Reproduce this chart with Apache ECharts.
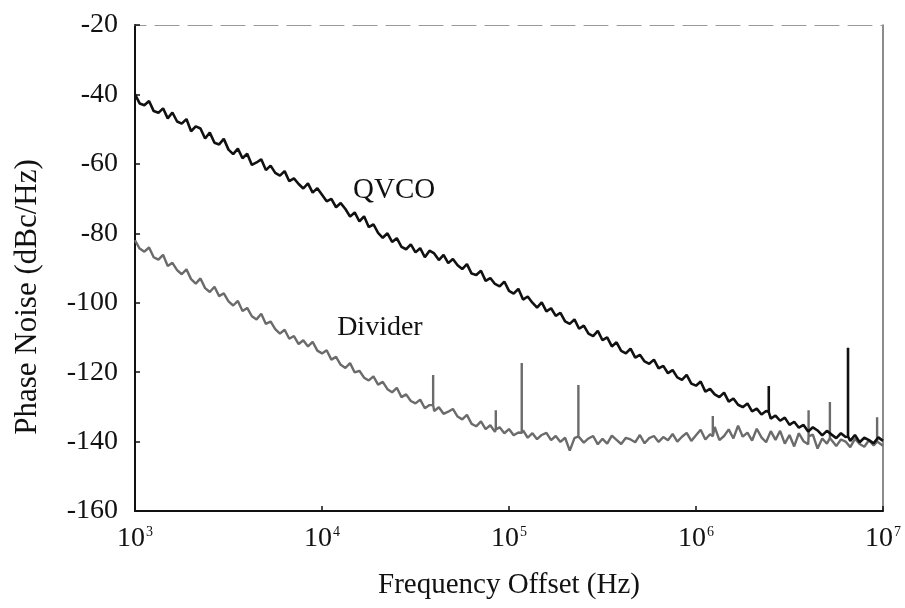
<!DOCTYPE html>
<html>
<head>
<meta charset="utf-8">
<script src="https://cdn.jsdelivr.net/npm/echarts@6/dist/echarts.min.js"></script>
<style>
  html, body { margin: 0; padding: 0; background: #fff; }
  #chart { width: 905px; height: 608px; }
</style>
</head>
<body>
<div id="chart"></div>
<script>
// Offset frequency sweep (Hz), 40 points per decade
const freqHz = [
  1.000e3,1.059e3,1.122e3,1.189e3,1.259e3,1.334e3,1.413e3,1.496e3,1.585e3,1.679e3,
  1.778e3,1.884e3,1.995e3,2.113e3,2.239e3,2.371e3,2.512e3,2.661e3,2.818e3,2.985e3,
  3.162e3,3.350e3,3.548e3,3.758e3,3.981e3,4.217e3,4.467e3,4.732e3,5.012e3,5.309e3,
  5.623e3,5.957e3,6.310e3,6.683e3,7.079e3,7.499e3,7.943e3,8.414e3,8.913e3,9.441e3,
  1.000e4,1.059e4,1.122e4,1.189e4,1.259e4,1.334e4,1.413e4,1.496e4,1.585e4,1.679e4,
  1.778e4,1.884e4,1.995e4,2.113e4,2.239e4,2.371e4,2.512e4,2.661e4,2.818e4,2.985e4,
  3.162e4,3.350e4,3.548e4,3.758e4,3.981e4,4.217e4,4.467e4,4.732e4,5.012e4,5.309e4,
  5.623e4,5.957e4,6.310e4,6.683e4,7.079e4,7.499e4,7.943e4,8.414e4,8.913e4,9.441e4,
  1.000e5,1.059e5,1.122e5,1.189e5,1.259e5,1.334e5,1.413e5,1.496e5,1.585e5,1.679e5,
  1.778e5,1.884e5,1.995e5,2.113e5,2.239e5,2.371e5,2.512e5,2.661e5,2.818e5,2.985e5,
  3.162e5,3.350e5,3.548e5,3.758e5,3.981e5,4.217e5,4.467e5,4.732e5,5.012e5,5.309e5,
  5.623e5,5.957e5,6.310e5,6.683e5,7.079e5,7.499e5,7.943e5,8.414e5,8.913e5,9.441e5,
  1.000e6,1.059e6,1.122e6,1.189e6,1.259e6,1.334e6,1.413e6,1.496e6,1.585e6,1.679e6,
  1.778e6,1.884e6,1.995e6,2.113e6,2.239e6,2.371e6,2.512e6,2.661e6,2.818e6,2.985e6,
  3.162e6,3.350e6,3.548e6,3.758e6,3.981e6,4.217e6,4.467e6,4.732e6,5.012e6,5.309e6,
  5.623e6,5.957e6,6.310e6,6.683e6,7.079e6,7.499e6,7.943e6,8.414e6,8.913e6,9.441e6,
  1.000e7
];

// QVCO phase noise (dBc/Hz)
const qvcoDbc = [
  -40.0,-42.6,-43.1,-41.9,-44.8,-45.3,-44.0,-46.9,-45.2,-47.8,
  -48.4,-47.1,-50.6,-49.2,-49.8,-52.7,-51.0,-53.9,-54.4,-52.8,
  -55.9,-57.2,-55.6,-58.4,-57.1,-60.3,-59.6,-58.7,-61.8,-60.5,
  -62.6,-63.4,-62.1,-65.0,-64.2,-65.8,-67.1,-65.6,-68.3,-67.0,
  -68.9,-70.8,-70.1,-72.5,-71.3,-73.0,-75.2,-74.0,-76.6,-75.1,
  -78.2,-77.4,-79.9,-81.3,-80.0,-82.5,-81.4,-83.9,-84.6,-83.2,
  -85.5,-84.3,-86.9,-85.0,-85.8,-87.7,-86.2,-88.6,-87.4,-89.2,
  -90.3,-88.9,-91.6,-92.0,-90.8,-93.7,-92.9,-94.6,-95.3,-93.9,
  -96.6,-97.4,-96.0,-99.1,-98.2,-100.0,-101.4,-99.9,-102.5,-101.6,
  -103.8,-102.9,-105.4,-106.1,-104.8,-107.5,-106.6,-108.9,-109.6,-108.1,
  -110.8,-110.0,-112.6,-111.4,-113.9,-114.6,-113.2,-115.8,-115.0,-116.9,
  -117.6,-116.4,-118.9,-118.2,-120.3,-119.4,-121.5,-122.2,-120.8,-123.3,
  -123.9,-122.7,-125.6,-124.8,-126.4,-127.2,-125.9,-128.5,-127.6,-129.4,
  -130.1,-129.0,-131.3,-130.5,-132.2,-131.2,-133.4,-132.5,-134.0,-133.1,
  -135.2,-134.3,-136.0,-135.2,-137.1,-135.9,-136.8,-138.2,-136.9,-138.0,
  -139.0,-137.6,-138.7,-139.8,-138.1,-140.2,-138.9,-139.6,-140.5,-138.8,
  -139.8
];

// Divider output phase noise (dBc/Hz)
const dividerDbc = [
  -82.0,-84.4,-85.3,-84.1,-86.9,-87.6,-86.2,-89.4,-88.5,-90.6,
  -91.8,-90.4,-93.2,-94.5,-93.0,-95.8,-96.9,-95.4,-98.1,-97.3,
  -99.6,-100.8,-99.5,-102.4,-101.5,-103.9,-104.8,-103.2,-106.1,-105.4,
  -107.6,-108.9,-107.8,-110.4,-109.6,-111.9,-110.8,-112.6,-111.3,-113.8,
  -114.6,-113.7,-116.4,-115.6,-117.9,-118.8,-117.4,-120.1,-119.6,-121.6,
  -122.4,-121.2,-123.6,-122.8,-124.9,-125.8,-124.5,-127.2,-126.4,-128.3,
  -129.0,-127.9,-130.4,-129.5,-131.2,-130.1,-132.0,-131.4,-130.6,-132.8,
  -133.6,-132.3,-134.9,-135.6,-134.2,-136.4,-135.3,-137.2,-135.9,-137.6,
  -136.4,-138.2,-137.4,-136.8,-138.9,-137.6,-139.3,-138.1,-137.5,-139.6,
  -138.4,-140.1,-138.9,-142.6,-139.0,-138.2,-140.3,-139.1,-138.4,-140.8,
  -139.2,-140.6,-138.3,-139.5,-140.7,-138.9,-139.4,-140.2,-138.1,-140.5,
  -139.0,-138.4,-140.1,-138.7,-139.6,-137.8,-140.0,-138.6,-137.5,-139.8,
  -138.2,-136.6,-139.4,-137.9,-135.8,-139.6,-138.4,-136.5,-139.1,-135.4,
  -138.6,-137.4,-139.7,-136.3,-138.8,-140.2,-137.0,-139.5,-136.9,-140.6,
  -138.1,-141.4,-137.6,-139.9,-140.8,-138.0,-142.0,-139.1,-140.6,-138.6,
  -141.3,-139.4,-140.0,-141.6,-139.2,-140.7,-141.5,-139.6,-141.1,-140.2,
  -141.2
];

// Discrete spurs: frequency (Hz), peak level and floor level (dBc/Hz)
const qvcoSpurHz    = [2.45e6, 6.5e6];
const qvcoSpurPeak  = [-124.0, -113.0];
const qvcoSpurFloor = [-131.5, -138.5];

const dividerSpurHz    = [3.93e4, 8.5e4, 1.17e5, 2.35e5, 1.23e6, 4.0e6, 5.2e6, 9.3e6];
const dividerSpurPeak  = [-120.8, -131.0, -117.4, -123.7, -132.6, -131.0, -128.6, -133.0];
const dividerSpurFloor = [-129.5, -136.5, -137.5, -138.5, -138.5, -138.5, -139.0, -140.0];

// Axis tick text
const xTickHz = [1e3, 1e4, 1e5, 1e6, 1e7];
const xTickExponents = ['3', '4', '5', '6', '7'];
const yTicks = [-160, -140, -120, -100, -80, -60, -40, -20];

const seriesNames = ['QVCO', 'Divider'];

// Merge a sweep with its spurs into sorted [f, level] points;
// each spur is a vertical excursion at a single frequency.
function buildTrace(freqs, levels, spurF, spurPeak, spurFloor) {
  const pts = freqs.map((f, i) => [f, levels[i], 0]);
  spurF.forEach((f, k) => {
    pts.push([f, spurFloor[k], 1], [f, spurPeak[k], 2], [f, spurFloor[k], 3]);
  });
  pts.sort((a, b) => (a[0] - b[0]) || (a[2] - b[2]));
  return pts.map(p => [p[0], p[1]]);
}

const qvcoTrace = buildTrace(freqHz, qvcoDbc, qvcoSpurHz, qvcoSpurPeak, qvcoSpurFloor);
const dividerTrace = buildTrace(freqHz, dividerDbc, dividerSpurHz, dividerSpurPeak, dividerSpurFloor);

function xTickLabel(v) {
  let best = 0;
  xTickHz.forEach((t, i) => {
    if (Math.abs(Math.log10(t) - Math.log10(v)) < Math.abs(Math.log10(xTickHz[best]) - Math.log10(v))) best = i;
  });
  return '{b|10}{s|' + xTickExponents[best] + '}';
}

const serif = '"Liberation Serif", "Times New Roman", serif';
const ink = '#111';

const chart = echarts.init(document.getElementById('chart'), null, { renderer: 'canvas' });

chart.setOption({
  backgroundColor: '#ffffff',
  animation: false,
  grid: { left: 135, right: 22, top: 25, bottom: 97, containLabel: false, outerBoundsMode: 'none' },
  xAxis: [
    {
      type: 'log',
      logBase: 10,
      min: 1e3,
      max: 1e7,
      axisLine: { show: true, lineStyle: { color: ink, width: 2 } },
      axisTick: { show: true, inside: true, length: 5, lineStyle: { color: ink, width: 1.5 } },
      minorTick: { show: false },
      splitLine: { show: false },
      axisLabel: {
        margin: 14,
        color: ink,
        fontFamily: serif,
        fontSize: 28,
        formatter: xTickLabel,
        rich: {
          b: { fontFamily: serif, fontSize: 28, color: ink },
          s: { fontFamily: serif, fontSize: 14, color: ink, verticalAlign: 'top', padding: [0, 0, 14, 1] }
        }
      },
      name: 'Frequency Offset (Hz)',
      nameLocation: 'middle',
      nameGap: 60,
      nameTextStyle: { fontFamily: serif, fontSize: 29, color: ink }
    },
    {
      type: 'log',
      logBase: 10,
      min: 1e3,
      max: 1e7,
      position: 'top',
      axisLine: { show: true, lineStyle: { color: '#999', width: 1, type: [24, 9], dashOffset: 46 } },
      axisTick: { show: false },
      axisLabel: { show: false },
      splitLine: { show: false }
    }
  ],
  yAxis: [
    {
      type: 'value',
      min: -160,
      max: -20,
      interval: 20,
      axisLine: { show: true, lineStyle: { color: ink, width: 2 } },
      axisTick: { show: true, inside: true, length: 5, lineStyle: { color: ink, width: 1.5 } },
      splitLine: { show: false },
      axisLabel: {
        margin: 17,
        color: ink,
        fontFamily: serif,
        fontSize: 28,
        formatter: v => (yTicks.indexOf(v) >= 0 ? String(v) : '')
      }
    },
    {
      type: 'value',
      min: -160,
      max: -20,
      interval: 20,
      position: 'right',
      axisLine: { show: true, lineStyle: { color: '#666', width: 1.5 } },
      axisTick: { show: false },
      axisLabel: { show: false },
      splitLine: { show: false }
    }
  ],
  graphic: [
    {
      type: 'text',
      x: 28,
      y: 297,
      rotation: Math.PI / 2,
      style: {
        text: 'Phase Noise (dBc/Hz)',
        fontFamily: serif,
        fontSize: 31,
        fill: ink,
        align: 'center',
        verticalAlign: 'middle'
      }
    }
  ],
  series: [
    {
      name: seriesNames[0],
      type: 'line',
      data: qvcoTrace,
      showSymbol: false,
      symbol: 'none',
      z: 3,
      lineStyle: { color: ink, width: 2.6 },
      markPoint: {
        symbol: 'circle',
        symbolSize: 0,
        itemStyle: { color: 'rgba(0,0,0,0)' },
        label: {
          show: true,
          position: 'inside',
          formatter: seriesNames[0],
          fontFamily: serif,
          fontSize: 29,
          color: ink
        },
        data: [{ coord: [2.43e4, -67.5] }]
      }
    },
    {
      name: seriesNames[1],
      type: 'line',
      data: dividerTrace,
      showSymbol: false,
      symbol: 'none',
      z: 2,
      lineStyle: { color: '#6b6b6b', width: 2.4 },
      markPoint: {
        symbol: 'circle',
        symbolSize: 0,
        itemStyle: { color: 'rgba(0,0,0,0)' },
        label: {
          show: true,
          position: 'inside',
          formatter: seriesNames[1],
          fontFamily: serif,
          fontSize: 28,
          color: ink
        },
        data: [{ coord: [2.04e4, -107.3] }]
      }
    }
  ]
});
</script>
</body>
</html>
